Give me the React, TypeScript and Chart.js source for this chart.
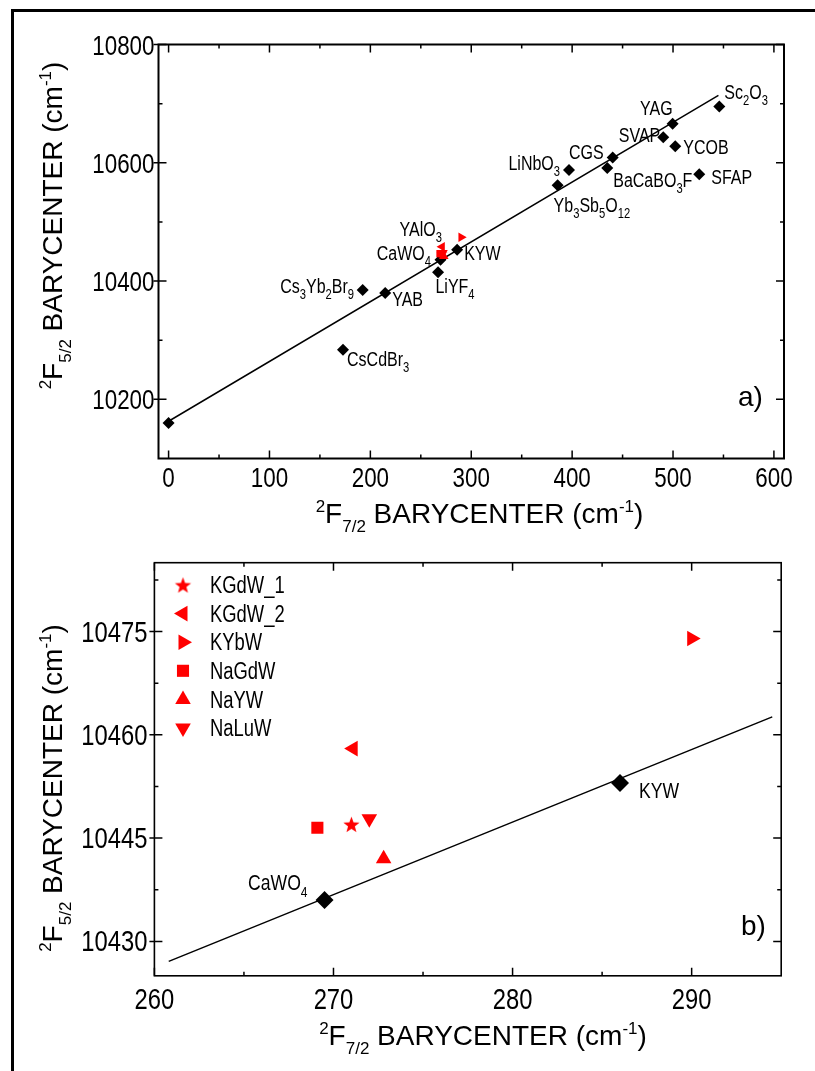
import React, { useEffect, useRef } from 'react';
import { Chart, registerables } from 'chart.js';
import { drawPoint } from 'chart.js/helpers';

Chart.register(...registerables);

const W = 815;
const HA = 540;
const HB = 531;

const FONT = "'Liberation Sans', Arial, sans-serif";
const NARROW_SCALE = 0.8;

// ---------------- Panel a data ----------------
const A_NAMES = ['', 'CsCdBr{3}', 'Cs{3}Yb{2}Br{9}', 'YAB', 'LiYF{4}', 'CaWO{4}', 'KYW', 'Yb{3}Sb{5}O{12}', 'LiNbO{3}', 'CGS', 'BaCaBO{3}F', 'SVAP', 'YAG', 'YCOB', 'SFAP', 'Sc{2}O{3}'];
const A_X = [0, 172.9, 192.4, 214.7, 267.1, 269.5, 286, 385.6, 396.9, 440.2, 434.8, 490.3, 499.6, 502.2, 526.0, 545.9];
const A_Y = [10160, 10284, 10385, 10380, 10415, 10436, 10453, 10562, 10588, 10609, 10591, 10643, 10666, 10628, 10580.5, 10695];
const A_FIT_X = [0, 545];
const A_FIT_Y = [10163, 10714];
const A_X_TICKS = [0, 100, 200, 300, 400, 500, 600];
const A_X_MINOR = [50, 150, 250, 350, 450, 550];
const A_Y_TICKS = [10200, 10400, 10600, 10800];
const A_Y_MINOR = [10300, 10500, 10700];

// ---------------- Red series (both panels) ----------------
const RED_NAMES = ['KGdW_1', 'KGdW_2', 'KYbW', 'NaGdW', 'NaYW', 'NaLuW'];
const RED_X = [271.0, 271.1, 290.0, 269.1, 272.8, 272.0];
const RED_Y = [10447.0, 10458.0, 10474.0, 10446.5, 10442.0, 10447.8];

// ---------------- Panel b data ----------------
const B_NAMES = ['CaWO{4}', 'KYW'];
const B_X = [269.5, 286];
const B_Y = [10436, 10453];
const B_FIT_X = [260.8, 294.5];
const B_FIT_Y = [10427.1, 10462.6];
const B_X_TICKS = [260, 270, 280, 290];
const B_X_MINOR = [265, 275, 285];
const B_Y_TICKS = [10430, 10445, 10460, 10475];
const B_Y_MINOR = [10437.5, 10452.5, 10467.5, 10482.5];

const Y_TITLE = '^{2}F{5/2} BARYCENTER (cm^{-1})';
const X_TITLE = '^{2}F{7/2} BARYCENTER (cm^{-1})';

// ---------------- styling / layout ----------------
const RED = '#ff0000';
const RED_SHAPES = ['star', 'triangle', 'triangle', 'rect', 'triangle', 'triangle'];
const RED_ROT = [0, -90, 90, 0, 0, 180];

const GEO_A = { left: 158.5, top: 44.5, right: 784, bottom: 458.5, xMin: -10, xMax: 610, yMin: 10100, yMax: 10800 };
const GEO_B = { left: 154.4, top: 22.7, right: 781.2, bottom: 435.8, xMin: 260, xMax: 295, yMin: 10425, yMax: 10485 };

const A_LABEL_POS: any[] = [
  null,
  { dx: 4, dy: 16, al: 'left' },
  { dx: -8.7, dy: 3, al: 'right' },
  { dx: 7, dy: 13.3, al: 'left' },
  { dx: -2.6, dy: 20.6, al: 'left' },
  { dx: -9.5, dy: 0, al: 'right' },
  { dx: 7, dy: 10, al: 'left' },
  { dx: -4, dy: 27, al: 'left' },
  { dx: -9, dy: 0, al: 'right' },
  { dx: -9, dy: 2, al: 'right' },
  { dx: 6, dy: 19, al: 'left' },
  { dx: -3, dy: 4.4, al: 'right' },
  { dx: 0, dy: -9, al: 'right' },
  { dx: 8, dy: 8, al: 'left' },
  { dx: 12, dy: 10, al: 'left' },
  { dx: 5, dy: -8, al: 'left' },
];
const A_EXTRA = [{ text: 'YAlO{3}', anchor: 5, dx: 1.5, dy: -24, al: 'right' }];
const B_LABEL_POS: any[] = [
  { dx: -17, dy: -10, al: 'right' },
  { dx: 19, dy: 15, al: 'left' },
];

type Seg = { t: string; k: 'n' | 'b' | 'p' };
function parseRich(s: string): Seg[] {
  const out: Seg[] = [];
  let i = 0;
  let buf = '';
  while (i < s.length) {
    const c = s[i];
    if (c === '{' || (c === '^' && s[i + 1] === '{')) {
      if (buf) { out.push({ t: buf, k: 'n' }); buf = ''; }
      const sup = c === '^';
      const start = sup ? i + 2 : i + 1;
      const end = s.indexOf('}', start);
      out.push({ t: s.slice(start, end), k: sup ? 'p' : 'b' });
      i = end + 1;
    } else {
      buf += c;
      i++;
    }
  }
  if (buf) out.push({ t: buf, k: 'n' });
  return out;
}

type RichStyle = { size: number; sub: number; subDy: number; supDy: number; hs: number };
function drawRich(ctx: CanvasRenderingContext2D, s: string, x: number, y: number, align: string, st: RichStyle) {
  const segs = parseRich(s);
  const fontOf = (k: string) => `${k === 'n' ? st.size : st.sub}px ${FONT}`;
  let w = 0;
  for (const sg of segs) { ctx.font = fontOf(sg.k); w += ctx.measureText(sg.t).width; }
  const ws = w * st.hs;
  const x0 = align === 'left' ? x : align === 'right' ? x - ws : x - ws / 2;
  ctx.save();
  ctx.translate(x0, y);
  ctx.scale(st.hs, 1);
  ctx.textAlign = 'left';
  ctx.textBaseline = 'alphabetic';
  let cx = 0;
  for (const sg of segs) {
    ctx.font = fontOf(sg.k);
    const dy = sg.k === 'b' ? st.subDy : sg.k === 'p' ? st.supDy : 0;
    ctx.fillText(sg.t, cx, dy);
    cx += ctx.measureText(sg.t).width;
  }
  ctx.restore();
}

function starImage(outer: number, color: string) {
  const inner = outer * 0.42;
  const size = Math.ceil(outer * 2 + 2);
  const c = document.createElement('canvas');
  c.width = size;
  c.height = size;
  const g = c.getContext('2d')!;
  g.fillStyle = color;
  g.beginPath();
  for (let i = 0; i < 10; i++) {
    const r = i % 2 ? inner : outer;
    const a = -Math.PI / 2 + (i * Math.PI) / 5;
    const px = size / 2 + r * Math.cos(a);
    const py = size / 2 + r * Math.sin(a) + outer * 0.1;
    if (i) g.lineTo(px, py); else g.moveTo(px, py);
  }
  g.closePath();
  g.fill();
  return c;
}

function redDatasets(radius: number, starR: number) {
  const star = starImage(starR, RED);
  return RED_NAMES.map((name, i) => ({
    label: name,
    data: [{ x: RED_X[i], y: RED_Y[i] }],
    pointStyle: RED_SHAPES[i] === 'star' ? star : RED_SHAPES[i],
    rotation: RED_ROT[i],
    pointRadius: RED_SHAPES[i] === 'rect' ? radius * 0.95 : radius,
    backgroundColor: RED,
    borderColor: RED,
    borderWidth: 0,
    order: 1,
  }));
}

function makeConfig(p: any) {
  const g = p.geo;
  const H = p.height;
  const tickStyle: RichStyle = { size: p.tickSize, sub: 17, subDy: 0, supDy: 0, hs: p.tickHs };
  const plugin = {
    id: 'decor',
    afterDraw(chart: any) {
      const { ctx, chartArea: ca } = chart;
      const xs = chart.scales.x;
      const ys = chart.scales.y;
      ctx.save();
      ctx.strokeStyle = '#000';
      ctx.lineWidth = p.boxWidth;
      ctx.strokeRect(ca.left, ca.top, ca.right - ca.left, ca.bottom - ca.top);
      ctx.lineWidth = 1.5;
      ctx.beginPath();
      const xt = (vals: number[], len: number) => {
        for (const v of vals) {
          const px = xs.getPixelForValue(v);
          ctx.moveTo(px, ca.bottom); ctx.lineTo(px, ca.bottom - len);
          ctx.moveTo(px, ca.top); ctx.lineTo(px, ca.top + len);
        }
      };
      const yt = (vals: number[], len: number, out: number) => {
        for (const v of vals) {
          const py = ys.getPixelForValue(v);
          ctx.moveTo(ca.left - out, py); ctx.lineTo(ca.left + len, py);
          ctx.moveTo(ca.right, py); ctx.lineTo(ca.right - len, py);
        }
      };
      xt(p.xTicks, 8); xt(p.xMinor, 4);
      yt(p.yTicks, 8, 5); yt(p.yMinor, 4, 0);
      ctx.stroke();

      ctx.fillStyle = '#000';
      // tick labels, taken from the scales' own ticks
      for (const t of xs.ticks) {
        drawRich(ctx, String(t.value), xs.getPixelForValue(t.value), ca.bottom + p.xLabelDy, 'center', tickStyle);
      }
      for (const t of ys.ticks) {
        drawRich(ctx, String(t.value), ca.left - p.yLabelGap, ys.getPixelForValue(t.value) + 10, 'right', tickStyle);
      }

      const tst: RichStyle = { size: 28, sub: 17, subDy: 9, supDy: -11, hs: 1 };
      drawRich(ctx, X_TITLE, p.xTitle.cx, p.xTitle.y, 'center', tst);
      ctx.save();
      ctx.translate(p.yTitle.x, p.yTitle.cy);
      ctx.rotate(-Math.PI / 2);
      drawRich(ctx, Y_TITLE, 0, 0, 'center', tst);
      ctx.restore();

      // point labels
      const meta = chart.getDatasetMeta(1);
      p.names.forEach((nm: string, i: number) => {
        const pos = p.labelPos[i];
        if (!pos || !nm) return;
        const el = meta.data[i];
        drawRich(ctx, nm, el.x + pos.dx, el.y + pos.dy, pos.al, p.labelStyle);
      });
      (p.extra || []).forEach((e: any) => {
        const el = meta.data[e.anchor];
        drawRich(ctx, e.text, el.x + e.dx, el.y + e.dy, e.al, p.labelStyle);
      });

      // panel letter
      ctx.font = `28px ${FONT}`;
      ctx.textAlign = 'left';
      ctx.textBaseline = 'alphabetic';
      ctx.fillText(p.letter.t, p.letter.x, p.letter.y);

      // legend
      if (p.legend) {
        const L = p.legend;
        RED_NAMES.forEach((nm, i) => {
          const ds = chart.data.datasets[2 + i];
          const y = L.y0 + i * L.dy;
          ctx.fillStyle = RED;
          drawPoint(ctx, { pointStyle: ds.pointStyle, rotation: ds.rotation, radius: ds.pointRadius, borderWidth: 0 } as any, L.mx, y);
          ctx.fillStyle = '#000';
          drawRich(ctx, nm, L.tx, y + L.size * 0.358, 'left', { size: L.size, sub: L.size, subDy: 0, supDy: 0, hs: NARROW_SCALE });
        });
      }
      ctx.restore();
    },
  };

  return {
    type: 'scatter' as const,
    data: {
      datasets: [
        {
          label: 'fit',
          data: p.fitX.map((x: number, i: number) => ({ x, y: p.fitY[i] })),
          showLine: true,
          pointRadius: 0,
          borderColor: '#000',
          borderWidth: 1.5,
          order: 3,
        },
        {
          label: 'crystals',
          data: p.xs.map((x: number, i: number) => ({ x, y: p.ys[i] })),
          pointStyle: 'rectRot',
          pointRadius: p.diamondR,
          backgroundColor: '#000',
          borderColor: '#000',
          borderWidth: 0,
          order: 2,
        },
        ...redDatasets(p.redR, p.starR),
      ],
    },
    options: {
      animation: false,
      responsive: false,
      maintainAspectRatio: false,
      events: [],
      layout: { padding: { left: 0, top: g.top, right: W - g.right, bottom: 0 } },
      plugins: { legend: { display: false }, tooltip: { enabled: false } },
      scales: {
        x: {
          type: 'linear',
          min: g.xMin,
          max: g.xMax,
          afterFit: (s: any) => { s.height = H - g.bottom; },
          afterBuildTicks: (s: any) => { s.ticks = p.xTicks.map((v: number) => ({ value: v })); },
          grid: { display: false, drawTicks: false },
          border: { display: false },
          ticks: { display: false },
        },
        y: {
          type: 'linear',
          min: g.yMin,
          max: g.yMax,
          afterFit: (s: any) => { s.width = g.left; },
          afterBuildTicks: (s: any) => { s.ticks = p.yTicks.map((v: number) => ({ value: v })); },
          grid: { display: false, drawTicks: false },
          border: { display: false },
          ticks: { display: false },
        },
      },
    },
    plugins: [plugin],
  };
}

export default function App() {
  const refA = useRef<HTMLCanvasElement>(null);
  const refB = useRef<HTMLCanvasElement>(null);

  useEffect(() => {
    const a = new Chart(refA.current!, makeConfig({
      geo: GEO_A, height: HA, fitX: A_FIT_X, fitY: A_FIT_Y, xs: A_X, ys: A_Y, names: A_NAMES,
      labelPos: A_LABEL_POS, extra: A_EXTRA, diamondR: 6, redR: 5.5, starR: 5.5,
      xTicks: A_X_TICKS, xMinor: A_X_MINOR, yTicks: A_Y_TICKS, yMinor: A_Y_MINOR,
      xLabelDy: 28.5, yLabelGap: 4, boxWidth: 2, tickSize: 28, tickHs: 0.8,
      xTitle: { cx: 479.5, y: 523 }, yTitle: { x: 62, cy: 225.5 },
      labelStyle: { size: 20, sub: 14, subDy: 6, supDy: -8, hs: NARROW_SCALE },
      letter: { t: 'a)', x: 738, y: 406 },
    }) as any);
    const b = new Chart(refB.current!, makeConfig({
      geo: GEO_B, height: HB, fitX: B_FIT_X, fitY: B_FIT_Y, xs: B_X, ys: B_Y, names: B_NAMES,
      labelPos: B_LABEL_POS, diamondR: 9, redR: 9, starR: 8.5,
      xTicks: B_X_TICKS, xMinor: B_X_MINOR, yTicks: B_Y_TICKS, yMinor: B_Y_MINOR,
      xLabelDy: 33, yLabelGap: 7, boxWidth: 1.6, tickSize: 29, tickHs: 0.82,
      xTitle: { cx: 483, y: 505 }, yTitle: { x: 62, cy: 248 },
      labelStyle: { size: 22, sub: 15, subDy: 7, supDy: -9, hs: NARROW_SCALE },
      letter: { t: 'b)', x: 741, y: 395 },
      legend: { mx: 183, tx: 210, y0: 45, dy: 28.6, size: 23 },
    }) as any);
    return () => { a.destroy(); b.destroy(); };
  }, []);

  return (
    <div style={{ position: 'absolute', left: 0, top: 0, width: W, height: HA + HB, background: '#fff', overflow: 'hidden' }}>
      <canvas ref={refA} width={W} height={HA} style={{ position: 'absolute', left: 0, top: 0 }} />
      <canvas ref={refB} width={W} height={HB} style={{ position: 'absolute', left: 0, top: HA }} />
      <div style={{ position: 'absolute', left: 11, top: 9, width: W - 11, height: 3, background: '#000' }} />
      <div style={{ position: 'absolute', left: 11, top: 9, width: 3, height: HA + HB - 9, background: '#000' }} />
    </div>
  );
}
